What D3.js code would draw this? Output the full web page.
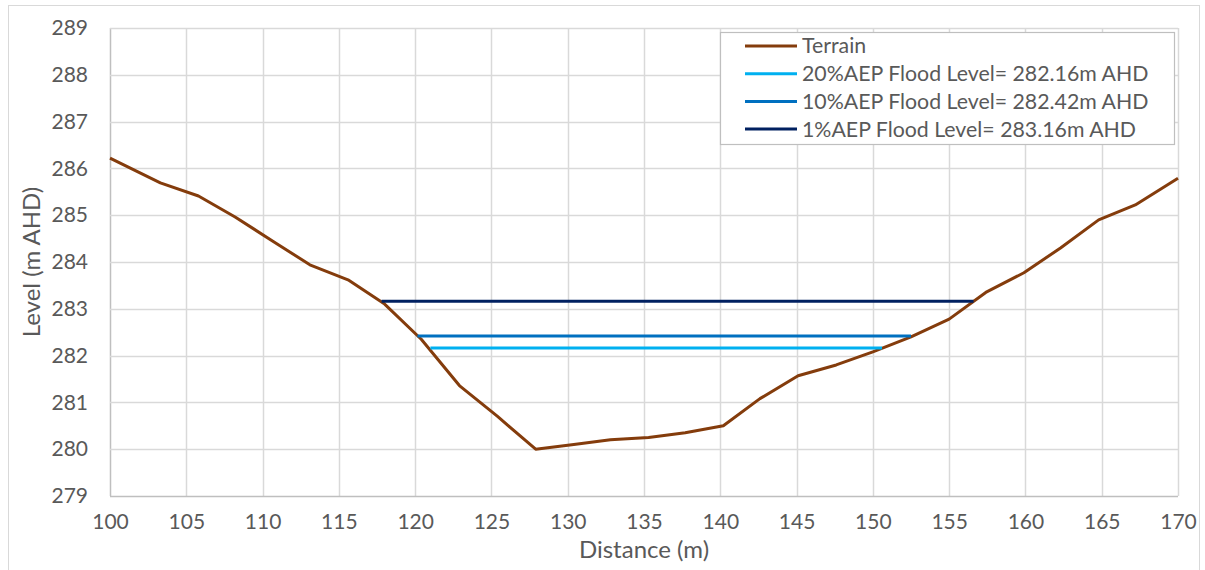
<!DOCTYPE html>
<html><head><meta charset="utf-8">
<script src="https://cdn.jsdelivr.net/npm/d3@7"></script>
<style>
html,body{margin:0;padding:0;background:#fff;}
svg{display:block;font-family:Lato,"Open Sans",sans-serif;}
</style></head>
<body><svg id="chart" width="1205" height="570"></svg>
<script>
const terrainDistance = [100,103.3,105.8,108.2,110.7,113.1,115.6,118.0,120.4,122.9,125.4,127.9,130.4,132.8,135.3,137.7,140.2,142.6,145.1,147.6,150.0,152.5,155.0,157.4,159.9,162.3,164.8,167.2,170];
const terrainLevel    = [286.22,285.69,285.41,284.96,284.44,283.94,283.62,283.1,282.35,281.36,280.7,280.0,280.1,280.2,280.25,280.35,280.5,281.08,281.57,281.8,282.08,282.4,282.78,283.35,283.77,284.3,284.9,285.22,285.79];
const floodNames  = ["20%AEP Flood Level= 282.16m AHD","10%AEP Flood Level= 282.42m AHD","1%AEP Flood Level= 283.16m AHD"];
const floodLevels = [282.16,282.42,283.16];
const floodStart  = [121.0,120.15,117.8];
const floodEnd    = [150.6,152.5,156.6];
const floodColors = ["#00B0F0","#0070C0","#002060"];
const terrainColor = "#843C0C";
const xTicks = [100,105,110,115,120,125,130,135,140,145,150,155,160,165,170];
const yTicks = [279,280,281,282,283,284,285,286,287,288,289];

const svg = d3.select("#chart");
const m = {left:110, right:1178, top:28, bottom:496};
const x = d3.scaleLinear().domain([100,170]).range([m.left,m.right]);
const y = d3.scaleLinear().domain([279,289]).range([m.bottom,m.top]);

// outer frame
svg.append("rect").attr("x",8.5).attr("y",5.5).attr("width",1191).attr("height",580)
  .attr("fill","none").attr("stroke","#d9d9d9").attr("stroke-width",1);

// gridlines
const grid = svg.append("g");
grid.selectAll(".vx").data(xTicks).join("line")
  .attr("x1",d=>Math.round(x(d))+0.5).attr("x2",d=>Math.round(x(d))+0.5)
  .attr("y1",m.top).attr("y2",m.bottom)
  .attr("stroke",(d,i)=>i===0?"#bfbfbf":"#d9d9d9").attr("stroke-width",1.5);
grid.selectAll(".hy").data(yTicks).join("line")
  .attr("x1",m.left).attr("x2",m.right)
  .attr("y1",d=>Math.round(y(d))+0.5).attr("y2",d=>Math.round(y(d))+0.5)
  .attr("stroke",(d,i)=>i===0?"#bfbfbf":"#d9d9d9").attr("stroke-width",1.5);

// axes labels via d3 axes
const yAxis = svg.append("g").attr("transform",`translate(${m.left},0)`)
  .call(d3.axisLeft(y).tickValues(yTicks).tickSize(0).tickPadding(22).tickFormat(d3.format("d")));
yAxis.select(".domain").remove();
yAxis.selectAll("text").attr("fill","#595959").style("font-size","21px").style("font-family","Lato");

const xAxis = svg.append("g").attr("transform",`translate(0,${m.bottom})`)
  .call(d3.axisBottom(x).tickValues(xTicks).tickSize(0).tickPadding(18).tickFormat(d3.format("d")));
xAxis.select(".domain").remove();
xAxis.selectAll("text").attr("fill","#595959").style("font-size","21px").style("font-family","Lato");

svg.append("text").attr("x",(m.left+m.right)/2).attr("y",558).attr("text-anchor","middle")
  .attr("fill","#595959").style("font-size","24px").text("Distance (m)");
svg.append("text").attr("transform",`translate(40,${(m.top+m.bottom)/2}) rotate(-90)`)
  .attr("text-anchor","middle").attr("fill","#595959").style("font-size","24px").text("Level (m AHD)");

// terrain
const terrain = terrainDistance.map((d,i)=>[d,terrainLevel[i]]);
const line = d3.line().x(d=>x(d[0])).y(d=>y(d[1]));
svg.append("path").datum(terrain).attr("d",line).attr("fill","none")
  .attr("stroke",terrainColor).attr("stroke-width",3).attr("stroke-linejoin","round");

// flood levels
floodLevels.forEach((lv,i)=>{
  svg.append("path").datum([[floodStart[i],lv],[floodEnd[i],lv]]).attr("d",line)
    .attr("fill","none").attr("stroke",floodColors[i]).attr("stroke-width",3);
});

// legend
const lg = svg.append("g");
lg.append("rect").attr("x",720.5).attr("y",32.5).attr("width",454).attr("height",112)
  .attr("fill","#fff").attr("stroke","#bfbfbf").attr("stroke-width",1.2);
const legNames = ["Terrain"].concat(floodNames);
const legColors = [terrainColor].concat(floodColors);
legNames.forEach((n,i)=>{
  const cy = 46 + i*27.7;
  lg.append("line").attr("x1",745).attr("x2",797).attr("y1",cy).attr("y2",cy)
    .attr("stroke",legColors[i]).attr("stroke-width",3);
  lg.append("text").attr("x",802).attr("y",cy).attr("dy","0.35em").attr("fill","#595959")
    .style("font-size","21.3px").text(n);
});
</script></body></html>
